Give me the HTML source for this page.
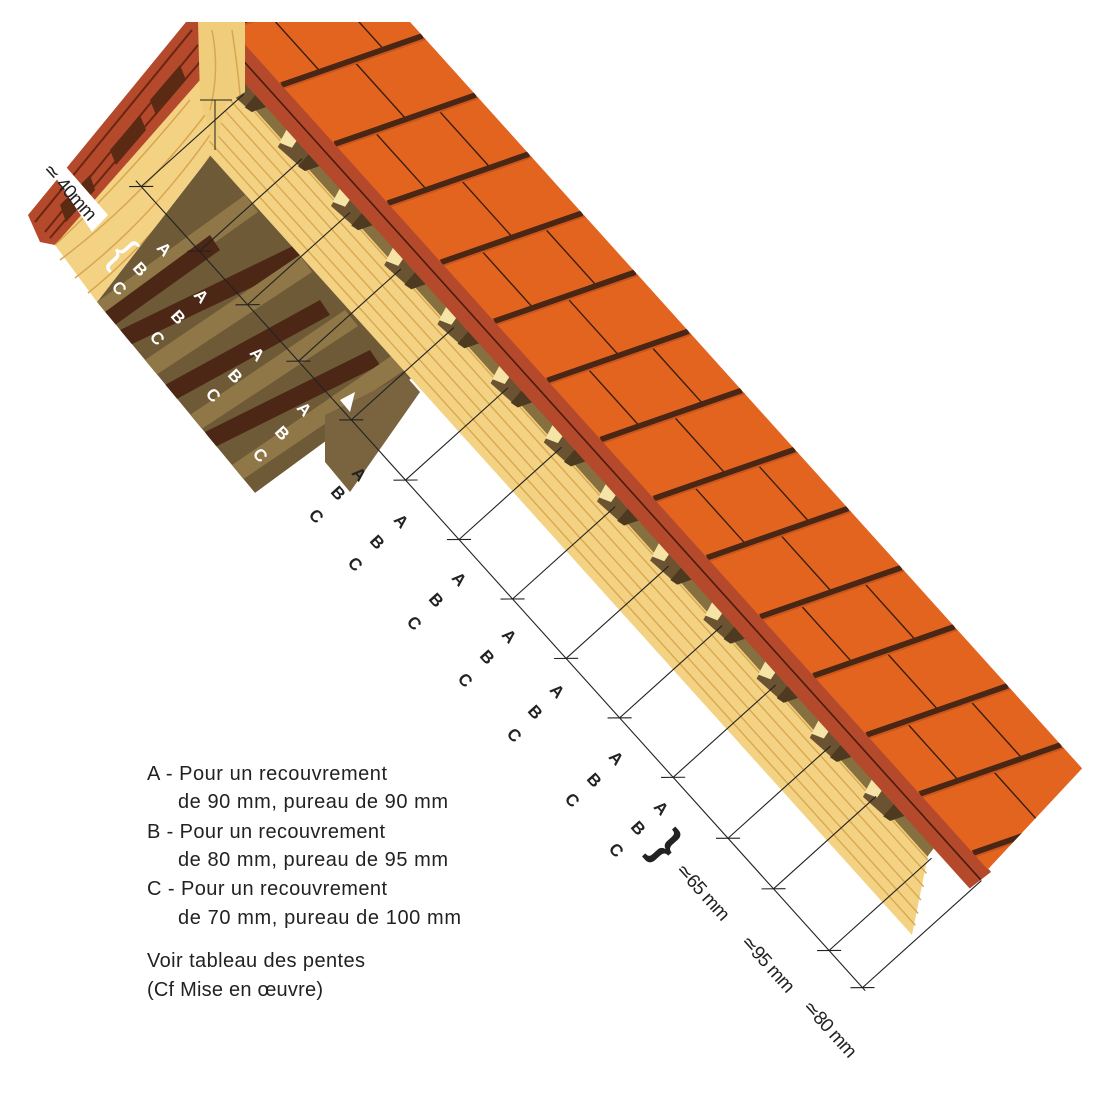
<!DOCTYPE html>
<html><head><meta charset="utf-8"><style>
html,body{margin:0;padding:0;background:#fff;}
svg{display:block;}
.t{font-family:"Liberation Sans",sans-serif;}
</style></head><body>
<svg width="1097" height="1099" viewBox="0 0 1097 1099" xmlns="http://www.w3.org/2000/svg">
<defs>
<clipPath id="top"><rect x="0" y="22" width="1097" height="1077"/></clipPath>
<clipPath id="rr"><polygon points="240,22 1097,22 1097,1099 205,1099 205,150 228,105 240,70"/></clipPath>
<clipPath id="band"><polygon points="100,-1200 238,-1200 238,-10 100,2"/></clipPath>
<clipPath id="brown"><polygon points="215,150 420,372 255,493 97,302"/></clipPath>
<g id="bat">
<polygon points="56,-36 74,-42 74,6 60,0" fill="#6b5332"/>
<polygon points="60,-38 74,-43 74,-28 66,-26" fill="#f6e3a6"/>
<polygon points="58,-8 74,-10 74,6 60,0" fill="#4e3a20"/>
</g>
<g id="crs">
<path d="M100,0 L238,58" stroke="#4a2614" stroke-width="6"/>
<path d="M100,4 L238,62" stroke="#c8551c" stroke-width="2"/>
</g>
</defs>

<g clip-path="url(#top)">
<!-- LEFT SECTION -->
<polygon points="28,215 186,22 204,22 204,80 55,245 40,242" fill="#b4492c"/>
<path d="M35,222 L192,30 M45,232 L198,45 M50,238 L200,62" stroke="#6b2612" stroke-width="2" fill="none"/>
<polygon points="60,205 90,175 95,190 66,222" fill="#5a2a12"/>
<polygon points="110,150 140,115 146,130 116,165" fill="#5a2a12"/>
<polygon points="150,100 180,65 186,80 156,115" fill="#5a2a12"/>
<polygon points="55,245 200,80 232,100 215,150 97,302" fill="#f3d283"/>
<path d="M60,260 Q140,200 205,115 M75,278 Q150,220 210,135 M88,293 Q160,235 214,150 M55,245 Q120,185 190,100" stroke="#d8a64e" stroke-width="1.5" fill="none"/>
<g clip-path="url(#brown)">
<polygon points="215,150 420,372 255,493 97,302" fill="#6f5a37"/>
<polygon points="97,302 245,195 258,212 108,318" fill="#8f7748"/>
<polygon points="120,330 295,245 305,262 130,345" fill="#4c2715"/>
<polygon points="145,360 300,255 312,272 156,375" fill="#8f7748"/>
<polygon points="190,415 345,310 358,326 200,430" fill="#8f7748"/>
<polygon points="205,432 370,350 380,365 215,447" fill="#4c2715"/>
<polygon points="232,465 400,350 412,365 242,480" fill="#8f7748"/>
<polygon points="105,312 210,235 220,250 115,325" fill="#4c2715"/>
<polygon points="165,385 320,300 330,315 175,400" fill="#4c2715"/>
</g>
<polygon points="325,415 405,375 420,392 350,492 325,462" fill="#7a6440"/>
<polygon points="340,400 355,392 350,412" fill="#fff"/>

<!-- RIGHT ROOF (local coords) -->
<g clip-path="url(#rr)">
<g transform="translate(912,935) rotate(-42)">
<polygon points="0,0 74,-55 74,-1200 0,-1200" fill="#f3d283"/>
<path d="M9,-1200 V-5 M19,-1200 V-12 M30,-1200 V-20 M41,-1200 V-28 M52,-1200 V-36 M62,-1200 V-44" stroke="#d9a850" stroke-width="1.4" fill="none"/>
<polygon points="64,-1200 75,-1200 75,-50 64,-48" fill="#86703f"/>
<use href="#bat" y="-1133"/><use href="#bat" y="-1053.5"/><use href="#bat" y="-974"/><use href="#bat" y="-894.5"/><use href="#bat" y="-815"/><use href="#bat" y="-735.5"/><use href="#bat" y="-656"/><use href="#bat" y="-576.5"/><use href="#bat" y="-497"/><use href="#bat" y="-417.5"/><use href="#bat" y="-338"/><use href="#bat" y="-258.5"/><use href="#bat" y="-179"/><use href="#bat" y="-99.5"/>
<polygon points="74,-1200 101,-1200 101,6 74,4" fill="#b4492c"/>
<path d="M88,-1200 V5" stroke="#4a1c0c" stroke-width="1.6"/>
<g clip-path="url(#band)">
<rect x="100" y="-1200" width="140" height="1250" fill="#e3641f"/>
<g stroke="#3a1e10" stroke-width="1.4">
<path d="M138,-1117V-1037.5 M200,-1091V-1011.5 M170,-1024V-944.5 M138,-958V-878.5 M200,-932V-852.5 M170,-865V-785.5 M138,-799V-719.5 M200,-773V-693.5 M170,-706V-626.5 M138,-640V-560.5 M200,-614V-534.5 M170,-547V-467.5 M138,-481V-401.5 M200,-455V-375.5 M170,-388V-308.5 M138,-322V-242.5 M200,-296V-216.5 M170,-229V-149.5 M138,-163V-83.5 M200,-137V-57.5 M170,-70V9.5"/>
</g>
<use href="#crs" y="-1133"/><use href="#crs" y="-1053.5"/><use href="#crs" y="-974"/><use href="#crs" y="-894.5"/><use href="#crs" y="-815"/><use href="#crs" y="-735.5"/><use href="#crs" y="-656"/><use href="#crs" y="-576.5"/><use href="#crs" y="-497"/><use href="#crs" y="-417.5"/><use href="#crs" y="-338"/><use href="#crs" y="-258.5"/><use href="#crs" y="-179"/><use href="#crs" y="-99.5"/><use href="#crs" y="-20"/>
</g>
</g>
</g>
<!-- post -->
<polygon points="198,22 245,22 245,92 226,104 215,150 200,98" fill="#f0cd7a"/>
<path d="M212,30 Q220,70 210,110 M232,30 Q238,70 240,95" stroke="#d8a64e" stroke-width="1.5" fill="none"/>
<!-- dimension lines -->
<g transform="translate(912,935) rotate(-42)">
<g stroke="#222" stroke-width="1.1" fill="none">
<path d="M-72,-1080 V10"/>
<path d="M-72,-1072H66 M-72,-985H66 M-72,-913H66 M-72,-837H66 M-72,-758H66 M-72,-677H66 M-72,-597H66 M-72,-517H66 M-72,-437H66 M-72,-357H66 M-72,-277H66 M-72,-195H66 M-72,-127H66 M-72,-44H66 M-72,6H88"/>
<path d="M-81,-1080l18,16 M-81,-993l18,16 M-81,-921l18,16 M-81,-845l18,16 M-81,-766l18,16 M-81,-685l18,16 M-81,-605l18,16 M-81,-525l18,16 M-81,-445l18,16 M-81,-365l18,16 M-81,-285l18,16 M-81,-203l18,16 M-81,-135l18,16 M-81,-52l18,16 M-81,-2l18,16"/>
</g>
</g>
<path d="M200,100 H232 M215,100 V150" stroke="#222" stroke-width="1"/>
</g>

<!-- ABC labels -->
<g class="t" font-size="17" font-weight="bold" fill="#fff" text-anchor="middle">
<text transform="translate(160,253) rotate(48)">A</text><text transform="translate(136,273) rotate(48)">B</text><text transform="translate(115,292) rotate(48)">C</text>
<text transform="translate(197,300) rotate(48)">A</text><text transform="translate(174,321) rotate(48)">B</text><text transform="translate(153,342) rotate(48)">C</text>
<text transform="translate(253,358) rotate(48)">A</text><text transform="translate(231,380) rotate(48)">B</text><text transform="translate(209,399) rotate(48)">C</text>
<text transform="translate(300,413) rotate(48)">A</text><text transform="translate(278,437) rotate(48)">B</text><text transform="translate(256,459) rotate(48)">C</text>
<text transform="translate(112,262) rotate(48)" font-size="44" font-weight="normal">{</text>
</g>
<g class="t" font-size="17" font-weight="bold" fill="#222" text-anchor="middle">
<text transform="translate(355,478) rotate(48)">A</text><text transform="translate(334,497) rotate(48)">B</text><text transform="translate(312,520) rotate(48)">C</text>
<text transform="translate(397,525) rotate(48)">A</text><text transform="translate(373,546) rotate(48)">B</text><text transform="translate(351,568) rotate(48)">C</text>
<text transform="translate(455,583) rotate(48)">A</text><text transform="translate(432,604) rotate(48)">B</text><text transform="translate(410,627) rotate(48)">C</text>
<text transform="translate(505,640) rotate(48)">A</text><text transform="translate(483,661) rotate(48)">B</text><text transform="translate(461,684) rotate(48)">C</text>
<text transform="translate(553,695) rotate(48)">A</text><text transform="translate(531,716) rotate(48)">B</text><text transform="translate(510,739) rotate(48)">C</text>
<text transform="translate(612,762) rotate(48)">A</text><text transform="translate(590,784) rotate(48)">B</text><text transform="translate(568,804) rotate(48)">C</text>
<text transform="translate(657,812) rotate(48)">A</text><text transform="translate(634,832) rotate(48)">B</text><text transform="translate(612,854) rotate(48)">C</text>
<text transform="translate(655,856) rotate(48)" font-size="48" font-weight="bold">}</text>
</g>

<!-- dimension texts -->
<g class="t" font-size="19" fill="#222" letter-spacing="-0.8">
<polygon points="44,160 60,160 108,215 92,232" fill="#fff"/>
<text transform="translate(42,170) rotate(48)">≃ 40mm</text>
<text transform="translate(675,870) rotate(48)">≃65 mm</text>
<text transform="translate(740,942) rotate(48)">≃95 mm</text>
<text transform="translate(802,1007) rotate(48)">≃80 mm</text>
</g>

<!-- legend -->
<g class="t" font-size="20" fill="#222">
<text x="147" y="780" textLength="240">A - Pour un recouvrement</text>
<text x="178" y="808" textLength="270">de 90 mm, pureau de 90 mm</text>
<text x="147" y="838" textLength="238">B - Pour un recouvrement</text>
<text x="178" y="866" textLength="270">de 80 mm, pureau de 95 mm</text>
<text x="147" y="895" textLength="240">C - Pour un recouvrement</text>
<text x="178" y="924" textLength="283">de 70 mm, pureau de 100 mm</text>
<text x="147" y="967" textLength="218">Voir tableau des pentes</text>
<text x="147" y="996" textLength="176">(Cf Mise en œuvre)</text>
</g>
</svg>
</body></html>
